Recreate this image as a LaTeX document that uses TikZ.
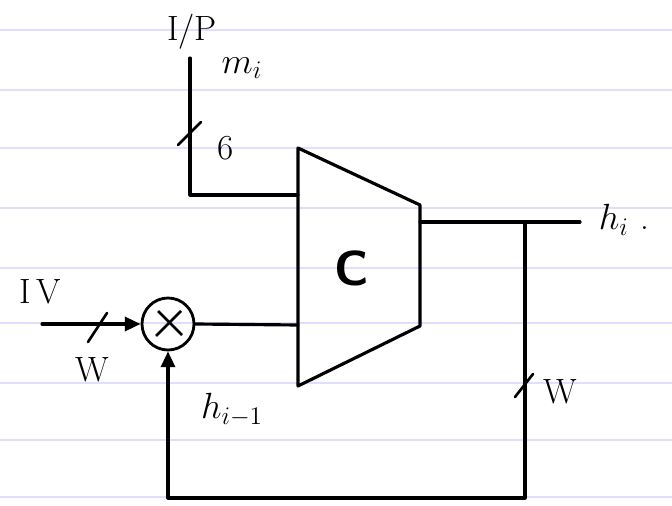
\documentclass[tikz,border=0pt]{standalone}
\usetikzlibrary{arrows.meta}
\begin{document}
\begin{tikzpicture}[x=0.02cm,y=-0.02cm,
  wire/.style={line width=1.8pt, line cap=round, line join=round},
  tickmark/.style={line width=1.5pt, line cap=round},
  lbl/.style={font=\fontsize{20}{24}\selectfont, inner sep=0pt},
  arr/.style={-{Triangle[length=9pt,width=8pt]}},
  paperline/.style={blue!13, line width=0.6pt}]
\useasboundingbox (0,0) rectangle (672,506);
\fill[white] (0,0) rectangle (672,506);
\foreach \yy in {30,90,148,208,268,323,383,440,497} \draw[paperline] (0,\yy) -- (672,\yy);
% block C
\coordinate (tl) at (298,148);
\coordinate (tr) at (420,205);
\coordinate (br) at (420,326);
\coordinate (bl) at (298,386);
\draw[wire] (tl) -- (tr) -- (br) -- (bl) -- cycle;
\node[font=\fontsize{28}{32}\selectfont\sffamily\bfseries] (C) at (352,268) {C};
% top input
\coordinate (ip) at (190,58);
\coordinate (ipc) at (190,195);
\coordinate (cin1) at (298,195);
\draw[wire] (ip) -- (ipc) -- (cin1);
\coordinate (t1a) at (178,145);
\coordinate (t1b) at (201,122);
\draw[tickmark] (t1a) -- (t1b);
% multiplier
\node[circle, draw, line width=1.6pt, minimum size=1.04cm, inner sep=0pt] (mul) at (168,324) {};
\draw[line width=1.6pt] (mul.center) ++(-12,12) -- ++(25,-25);
\draw[line width=1.6pt] (mul.center) ++(-10,-13) -- ++(24,24);
\coordinate (iv) at (42,324);
\draw[wire,arr] (iv) -- (mul.west);
\coordinate (t2a) at (88,342);
\coordinate (t2b) at (107,313);
\draw[tickmark] (t2a) -- (t2b);
\coordinate (cin2) at (298,325);
\draw[wire] (mul.east) -- (cin2);
% output and feedback
\coordinate (cout) at (420,222);
\coordinate (hout) at (580,222);
\coordinate (br1) at (525,222);
\coordinate (fb1) at (525,498);
\coordinate (fb2) at (168,498);
\draw[wire] (cout) -- (hout);
\draw[wire,arr] (br1) -- (fb1) -- (fb2) -- (mul.south);
\coordinate (t3a) at (515,397);
\coordinate (t3b) at (533,374);
\draw[tickmark] (t3a) -- (t3b);
% labels
\node[lbl] (lip) at (192,32) {I/P};
\node[lbl] (lmi) at (242,68) {$m_i$};
\node[lbl] (l6) at (226,148) {6};
\node[lbl] (liv) at (40,292) {I\,V};
\node[lbl] (lw1) at (92,370) {W};
\node[lbl] (lhi) at (624,220) {$h_i$\,\,.};
\node[lbl] (lw2) at (560,392) {W};
\node[lbl] (lhim) at (232,410) {$h_{i-1}$};
\end{tikzpicture}
\end{document}
